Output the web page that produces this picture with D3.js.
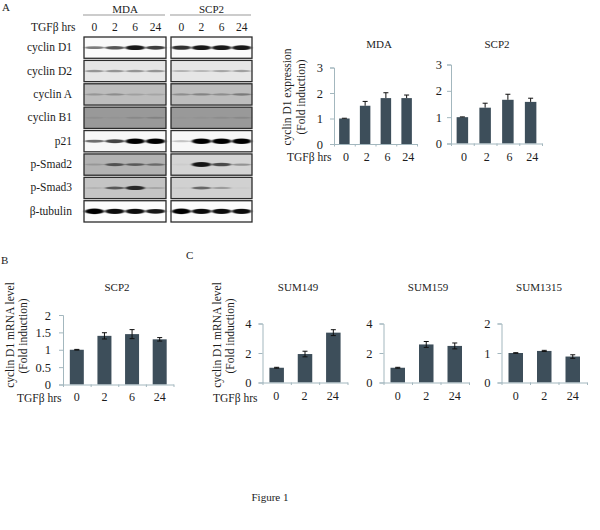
<!DOCTYPE html>
<html>
<head>
<meta charset="utf-8">
<script src="https://cdnjs.cloudflare.com/ajax/libs/d3/7.8.5/d3.min.js"></script>
<style>
body { margin: 0; background: #fff; }
svg { display: block; }
text { font-family: "Liberation Serif", serif; fill: #1c1c1c; }
</style>
</head>
<body>
<svg id="fig" width="600" height="530"></svg>
<script>
const width = 600;
const height = 530;

// ---------------------------- Data ----------------------------
const blotLanes = ["0", "2", "6", "24"];
const blotRows = ["cyclin D1", "cyclin D2", "cyclin A", "cyclin B1", "p21", "p-Smad2", "p-Smad3", "β-tubulin"];

// membrane brightness per row, 1 = white
const mdaBackground = [0.98, 0.9, 0.74, 0.6, 0.97, 0.7, 0.77, 0.99];
const scp2Background = [0.98, 0.9, 0.74, 0.6, 0.97, 0.83, 0.82, 0.99];

// band darkness per row and lane
const mdaBands = [
    [0.5, 0.65, 0.9, 0.75],
    [0.35, 0.35, 0.35, 0.35],
    [0.2, 0.25, 0.15, 0.12],
    [0.06, 0.03, 0.1, 0.14],
    [0.55, 0.72, 1, 1],
    [0.15, 0.55, 0.5, 0.4],
    [0.08, 0.55, 0.8, 0.15],
    [1, 0.95, 0.95, 0.9]
];
const scp2Bands = [
    [0.8, 0.9, 0.9, 0.9],
    [0.22, 0.2, 0.28, 0.3],
    [0.25, 0.3, 0.25, 0.35],
    [0.02, 0.04, 0.08, 0.1],
    [0.2, 1, 1, 1],
    [0.03, 0.9, 0.65, 0.3],
    [0.03, 0.5, 0.25, 0.02],
    [1, 0.95, 0.95, 0.95]
];

const hoursLong = ["0", "2", "6", "24"];
const hoursShort = ["0", "2", "24"];

const proteinMda = [1, 1.5, 1.8, 1.8];
const proteinMdaErr = [0.01, 0.17, 0.21, 0.12];
const proteinScp2 = [1, 1.36, 1.66, 1.58];
const proteinScp2Err = [0.01, 0.17, 0.21, 0.14];

const mrnaScp2 = [1, 1.4, 1.45, 1.3];
const mrnaScp2Err = [0.01, 0.09, 0.13, 0.05];

const mrnaSum149 = [1, 1.93, 3.38];
const mrnaSum149Err = [0.03, 0.19, 0.2];
const mrnaSum159 = [1, 2.58, 2.48];
const mrnaSum159Err = [0.03, 0.2, 0.2];
const mrnaSum1315 = [1, 1.07, 0.88];
const mrnaSum1315Err = [0.01, 0.02, 0.06];

// ---------------------------- Layout ----------------------------
const barColor = "#3d4e5a";
const axisColor = "#a3b7be";

const svg = d3.select("#fig");

const defs = svg.append("defs");
defs.append("filter").attr("id", "smear")
    .attr("x", "-20%").attr("y", "-150%").attr("width", "140%").attr("height", "400%")
    .append("feGaussianBlur").attr("stdDeviation", "1.6 0.6");

function label(x, y, str, size, anchor = "middle") {
    return svg.append("text")
        .attr("x", x)
        .attr("y", y)
        .attr("font-size", size)
        .attr("text-anchor", anchor)
        .text(str);
}

// ---------------------------- Western blots ----------------------------
const gray = d3.scaleLinear().domain([0, 1]).range(["#000", "#fff"]);
const bandHeight = d3.scalePow().exponent(2).domain([0, 1]).range([1, 2.8]);
const rowTop = d3.scaleBand().domain(blotRows).range([37, 222]).paddingInner(0.09);

function drawBlot(left, right, background, bands, name) {
    const lane = d3.scaleBand().domain(blotLanes).range([left, right]).padding(0.03);
    const g = svg.append("g");

    blotRows.forEach((row, i) => {
        const cell = g.append("g");
        const midY = rowTop(row) + rowTop.bandwidth() / 2;
        cell.append("rect")
            .attr("x", left)
            .attr("y", rowTop(row))
            .attr("width", right - left)
            .attr("height", rowTop.bandwidth())
            .attr("fill", gray(background[i]));

        cell.selectAll("ellipse")
            .data(bands[i])
            .enter().append("ellipse")
            .attr("cx", (d, j) => lane(blotLanes[j]) + lane.bandwidth() / 2)
            .attr("cy", midY)
            .attr("rx", lane.bandwidth() * 0.5)
            .attr("ry", d => bandHeight(d))
            .attr("fill", "#000")
            .attr("opacity", d => d)
            .attr("filter", "url(#smear)");

        cell.append("rect")
            .attr("x", left)
            .attr("y", rowTop(row))
            .attr("width", right - left)
            .attr("height", rowTop.bandwidth())
            .attr("fill", "none")
            .attr("stroke", "#2b2b2b")
            .attr("stroke-width", 1.3);
    });

    svg.append("line")
        .attr("x1", left - 1).attr("x2", right - 1)
        .attr("y1", 15).attr("y2", 15)
        .attr("stroke", "#999");
    label((left + right) / 2, 12.5, name, 11);

    blotLanes.forEach(l => {
        label(lane(l) + lane.bandwidth() / 2, 31, l, 11.5);
    });
}

drawBlot(84, 166, mdaBackground, mdaBands, "MDA");
drawBlot(171, 252, scp2Background, scp2Bands, "SCP2");

label(31, 31, "TGFβ hrs", 11.5, "start");
blotRows.forEach(row => {
    label(72, rowTop(row) + rowTop.bandwidth() / 2 + 3.5, row, 11.5, "end");
});

// ---------------------------- Bar charts ----------------------------
function drawBars(opts) {
    const { left, right, top, bottom, yMax, yTicks, barWidth, hours, values, errors } = opts;

    const x = d3.scaleBand().domain(hours).range([left, right]);
    const y = d3.scaleLinear().domain([0, yMax]).range([bottom, top]);
    const edges = d3.scaleLinear().domain([0, hours.length]).range([left, right]);

    const g = svg.append("g");

    g.selectAll("rect")
        .data(values)
        .enter().append("rect")
        .attr("x", (d, i) => x(hours[i]) + (x.bandwidth() - barWidth) / 2)
        .attr("y", d => y(d))
        .attr("width", barWidth)
        .attr("height", d => bottom - y(d))
        .attr("fill", barColor);

    // error bars, some panels only show the upper half
    const whisker = g.selectAll(".whisker")
        .data(values)
        .enter().append("g")
        .attr("class", "whisker")
        .attr("transform", (d, i) => `translate(${x(hours[i]) + x.bandwidth() / 2},0)`);

    whisker.append("line")
        .attr("y1", (d, i) => opts.upperOnly ? y(d) : y(d - errors[i]))
        .attr("y2", (d, i) => y(d + errors[i]))
        .attr("stroke", "#111");
    whisker.append("line")
        .attr("x1", -2.5).attr("x2", 2.5)
        .attr("y1", (d, i) => y(d + errors[i]))
        .attr("y2", (d, i) => y(d + errors[i]))
        .attr("stroke", "#111");
    if (!opts.upperOnly) {
        whisker.append("line")
            .attr("x1", -2.5).attr("x2", 2.5)
            .attr("y1", (d, i) => y(d - errors[i]))
            .attr("y2", (d, i) => y(d - errors[i]))
            .attr("stroke", "#111");
    }

    const yAxis = g.append("g")
        .attr("transform", `translate(${left},0)`)
        .call(d3.axisLeft(y).tickValues(yTicks).tickFormat(d3.format("~g")).tickSize(4).tickPadding(opts.yPad));
    const xAxis = g.append("g")
        .attr("transform", `translate(0,${bottom})`)
        .call(d3.axisBottom(edges).tickValues(d3.range(hours.length + 1)).tickFormat("").tickSize(2.5).tickSizeOuter(0));
    [yAxis, xAxis].forEach(a => {
        a.selectAll("path, line").attr("stroke", axisColor).attr("stroke-width", 1);
    });
    yAxis.selectAll("text").attr("font-size", 12.5).attr("font-family", "Liberation Serif").attr("fill", "#1c1c1c");

    const hourLabels = g.append("g")
        .attr("transform", `translate(${opts.labelShift},${bottom})`)
        .call(d3.axisBottom(x).tickSize(0).tickPadding(opts.xPad));
    hourLabels.select(".domain").remove();
    hourLabels.selectAll("text").attr("font-size", 12).attr("font-family", "Liberation Serif").attr("fill", "#1c1c1c");

    label(opts.titleX, opts.titleY, opts.title, 11);
}

function yTitle(x, y, str, size) {
    svg.append("text")
        .attr("transform", `translate(${x},${y}) rotate(-90)`)
        .attr("text-anchor", "middle")
        .attr("font-size", size)
        .text(str);
}

drawBars({ left: 334, right: 417, top: 67.5, bottom: 144, yMax: 3, yTicks: [0, 1, 2, 3], barWidth: 10.5,
    hours: hoursLong, values: proteinMda, errors: proteinMdaErr, upperOnly: true,
    yPad: 7, xPad: 8, labelShift: 1.5, title: "MDA", titleX: 379, titleY: 48 });
drawBars({ left: 451, right: 542, top: 64.5, bottom: 143.5, yMax: 3, yTicks: [0, 1, 2, 3], barWidth: 11.5,
    hours: hoursLong, values: proteinScp2, errors: proteinScp2Err, upperOnly: true,
    yPad: 5, xPad: 9, labelShift: 1.5, title: "SCP2", titleX: 497, titleY: 48 });
drawBars({ left: 63, right: 173.5, top: 315, bottom: 384.5, yMax: 2, yTicks: [0, 0.5, 1, 1.5, 2], barWidth: 14,
    hours: hoursLong, values: mrnaScp2, errors: mrnaScp2Err,
    yPad: 8, xPad: 8, labelShift: 0, title: "SCP2", titleX: 117, titleY: 291 });
drawBars({ left: 262.5, right: 347.5, top: 323.5, bottom: 382.5, yMax: 4, yTicks: [0, 2, 4], barWidth: 14.5,
    hours: hoursShort, values: mrnaSum149, errors: mrnaSum149Err,
    yPad: 7, xPad: 9, labelShift: -0.5, title: "SUM149", titleX: 298, titleY: 291 });
drawBars({ left: 383.5, right: 469, top: 323.5, bottom: 382.5, yMax: 4, yTicks: [0, 2, 4], barWidth: 14.5,
    hours: hoursShort, values: mrnaSum159, errors: mrnaSum159Err,
    yPad: 7, xPad: 9, labelShift: 0, title: "SUM159", titleX: 428, titleY: 291 });
drawBars({ left: 501.5, right: 587, top: 323.5, bottom: 382.5, yMax: 2, yTicks: [0, 1, 2], barWidth: 14.5,
    hours: hoursShort, values: mrnaSum1315, errors: mrnaSum1315Err,
    yPad: 7, xPad: 9, labelShift: 0, title: "SUM1315", titleX: 539, titleY: 291 });

// ---------------------------- Remaining text ----------------------------
yTitle(291, 97, "cyclin D1 expression", 11.5);
yTitle(305, 97, "(Fold induction)", 11.5);
yTitle(14, 335, "cyclin D1 mRNA level", 11.5);
yTitle(27, 336, "(Fold induction)", 11.5);
yTitle(221, 335, "cyclin D1 mRNA level", 11.5);
yTitle(234, 336, "(Fold induction)", 11.5);

label(287, 161, "TGFβ hrs", 11.5, "start");
label(17, 402, "TGFβ hrs", 11.5, "start");
label(213, 402, "TGFβ hrs", 11.5, "start");

label(2, 11, "A", 11, "start");
label(1, 264, "B", 11, "start");
label(186, 259, "C", 11, "start");

label(270, 501, "Figure 1", 11);
</script>
</body>
</html>
